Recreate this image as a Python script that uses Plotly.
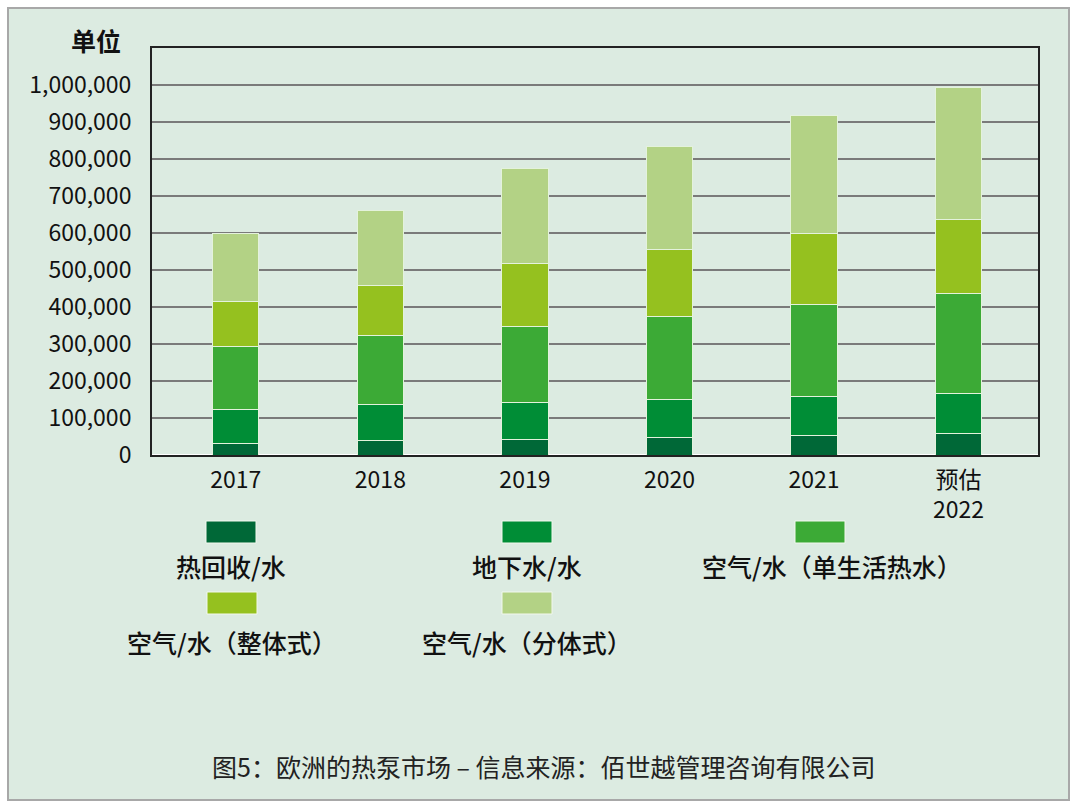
import plotly.graph_objects as go

# values (units)
years = ["2017", "2018", "2019", "2020", "2021", "预估<br>2022"]
series_names = ["热回收/水", "地下水/水", "空气/水（单生活热水）", "空气/水（整体式）", "空气/水（分体式）"]
heat_recovery = [32000, 39000, 43000, 48000, 54000, 59000]
ground_water = [92000, 97000, 99000, 101000, 104000, 108000]
air_dhw = [169000, 186000, 205000, 226000, 249000, 270000]
air_mono = [123000, 136000, 170000, 181000, 193000, 199000]
air_split = [182000, 204000, 256000, 278000, 318000, 358000]
colors = ["#006837", "#008d36", "#3caa36", "#95c11f", "#b3d285"]
y_ticks = [0, 100000, 200000, 300000, 400000, 500000, 600000, 700000, 800000, 900000, 1000000]

series = [heat_recovery, ground_water, air_dhw, air_mono, air_split]

CJK = "Noto Sans CJK SC"
BG = "#dcebe1"

fig = go.Figure()
for name, vals, col in zip(series_names, series, colors):
    fig.add_trace(go.Bar(
        x=years, y=vals, name=name,
        marker=dict(color=col, line=dict(color="#e4f2dc", width=1)),
        width=0.32,
    ))

fig.update_layout(
    barmode="stack",
    width=1080, height=807,
    margin=dict(l=152, r=42, t=48, b=352),
    paper_bgcolor="white",
    plot_bgcolor="white",
    showlegend=False,
    font=dict(family=CJK, size=20, color="#111"),
)

fig.update_xaxes(
    range=[-0.58, 5.55],
    showline=True, linecolor="#222", linewidth=2, mirror=True,
    ticks="", tickfont=dict(size=23, color="#111"),
    ticklabelstandoff=3,
)
fig.update_yaxes(
    range=[0, 1100000], tickvals=y_ticks, tickformat=",",
    showline=True, linecolor="#222", linewidth=2, mirror=True,
    gridcolor="#7a7a7a", gridwidth=1.5,
    ticks="", tickfont=dict(size=23, color="#111"),
    ticklabelstandoff=14,
)

# outer panel (paper coordinates extend beyond the plot area)
def px(x):
    return (x - 152) / 886

def py(y):
    return (455 - y) / 407

fig.add_shape(type="rect", xref="paper", yref="paper",
              x0=px(8), x1=px(1069), y0=py(8), y1=py(800),
              fillcolor=BG, line=dict(color="#a8a8a8", width=2), layer="below")

fig.add_annotation(text="<b>单位</b>", xref="paper", yref="paper",
                   x=px(96), y=py(40), xanchor="center", yanchor="middle",
                   showarrow=False, font=dict(size=25, color="#111", family=CJK))

# custom legend: swatch above label
legend_pos = [(231, 532, 566), (527, 532, 566), (820, 532, 566),
              (232, 603, 642), (527, 603, 642)]
for name, col, (cx, sy, ty) in zip(series_names, colors, legend_pos):
    fig.add_shape(type="rect", xref="paper", yref="paper",
                  x0=px(cx - 25), x1=px(cx + 25), y0=py(sy + 11), y1=py(sy - 11),
                  fillcolor=col, line=dict(color="#f2f8ee", width=1))
    tx = 832 if name == "空气/水（单生活热水）" else cx
    fig.add_annotation(text=name, xref="paper", yref="paper",
                       x=px(tx), y=py(ty), xanchor="center", yanchor="middle",
                       showarrow=False,
                       font=dict(size=25, color="#111", family=CJK, weight=500))

fig.add_annotation(text="图5：欧洲的热泵市场 – 信息来源：佰世越管理咨询有限公司",
                   xref="paper", yref="paper", x=px(543), y=py(766),
                   xanchor="center", yanchor="middle",
                   showarrow=False, font=dict(size=25, color="#222", family=CJK))

fig.write_html("out.html", config={"displayModeBar": False},
               post_script="document.body.style.margin='0';document.body.style.overflow='hidden';")
